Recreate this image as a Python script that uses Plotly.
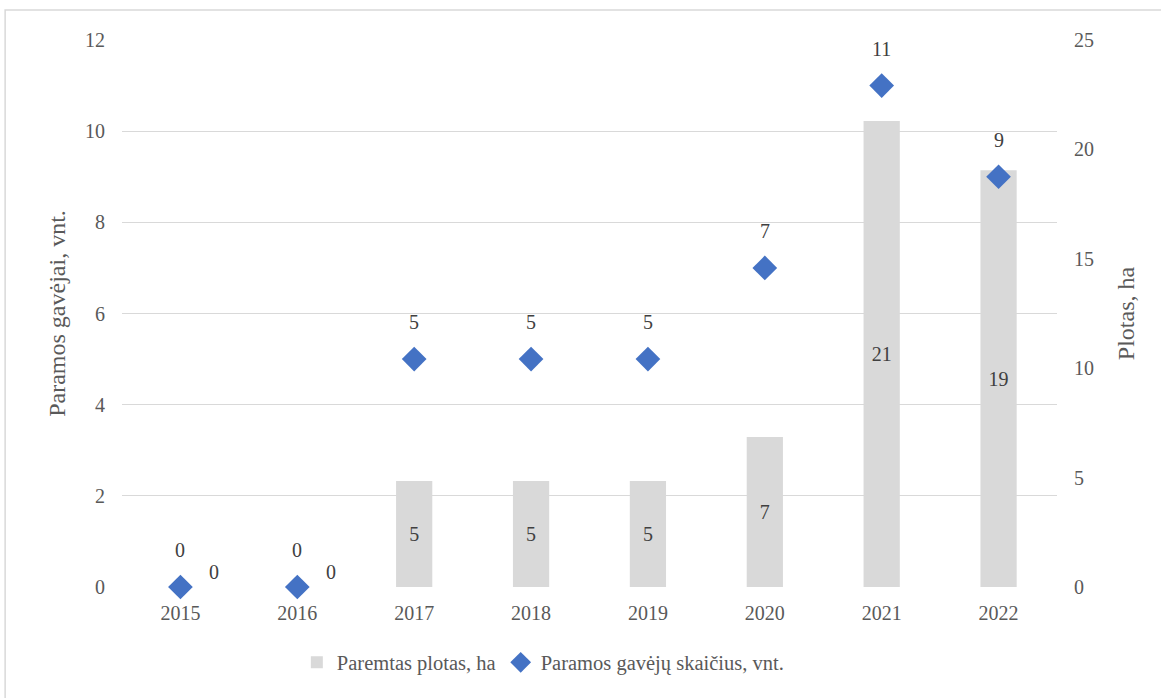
import plotly.graph_objects as go

years = ['2015', '2016', '2017', '2018', '2019', '2020', '2021', '2022']
area_ha = [0, 0, 4.85, 4.85, 4.85, 6.85, 21.3, 19.05]
recipients = [0, 0, 5, 5, 5, 7, 11, 9]

FONT = 'Liberation Serif'
GRID = '#d9d9d9'
TXT = '#595959'
LBL = '#404040'

pos = list(range(len(years)))

fig = go.Figure()

# bars on the primary (right) axis so the diamonds on y2 are drawn above them
fig.add_trace(go.Bar(
    x=pos, y=area_ha, yaxis='y', name='Paremtas plotas, ha',
    marker=dict(color='#d9d9d9', line=dict(width=0)), width=0.31,
    text=[f'{v:.0f}' if v > 0 else '' for v in area_ha],
    textposition='inside', insidetextanchor='middle', textangle=0,
    textfont=dict(family=FONT, size=20, color=LBL),
    hoverinfo='skip'))

fig.add_trace(go.Scatter(
    x=pos, y=recipients, yaxis='y2', mode='markers',
    name='Paramos gavėjų skaičius, vnt.',
    marker=dict(symbol='diamond', size=19, color='#4472c4'),
    cliponaxis=False))

annotations = []
for p, v in zip(pos, recipients):
    annotations.append(dict(
        x=p, y=v, xref='x', yref='y2', text=f'{v}', showarrow=False,
        yshift=37, font=dict(family=FONT, size=20, color=LBL)))
for p, v in zip(pos, area_ha):
    if v == 0:
        annotations.append(dict(
            x=p, y=v, xref='x', yref='y', text=f'{v:.0f}', showarrow=False,
            xshift=34, yshift=15, font=dict(family=FONT, size=20, color=LBL)))

fig.update_layout(
    width=1161, height=698,
    plot_bgcolor='white', paper_bgcolor='white',
    font=dict(family=FONT, size=20, color=TXT),
    margin=dict(l=122, r=104, t=40, b=111),
    showlegend=True,
    legend=dict(orientation='h', yanchor='middle', y=-0.138, xanchor='left',
                x=0.187, font=dict(family=FONT, size=20.5, color=TXT),
                itemwidth=30, traceorder='normal'),
    xaxis=dict(range=[-0.5, len(years) - 0.5], tickvals=pos, ticktext=years,
               showgrid=False, zeroline=False, showline=False,
               ticklabelstandoff=12,
               tickfont=dict(family=FONT, size=20, color=TXT)),
    yaxis=dict(range=[0, 25], dtick=5, side='right',
               showgrid=False, zeroline=False, showline=False,
               ticklabelstandoff=16,
               tickfont=dict(family=FONT, size=20, color=TXT),
               title=dict(text='Plotas, ha',
                          font=dict(family=FONT, size=24, color=TXT),
                          standoff=24)),
    yaxis2=dict(range=[0, 12], dtick=2, overlaying='y', side='left',
                showgrid=True, gridcolor=GRID, gridwidth=1.3,
                zeroline=False, showline=False,
                ticklabelstandoff=16,
                tickfont=dict(family=FONT, size=20, color=TXT),
                title=dict(text='Paramos gavėjai, vnt.',
                           font=dict(family=FONT, size=24, color=TXT),
                           standoff=12)),
    annotations=annotations,
    shapes=[dict(type='rect', xref='paper', yref='paper',
                 x0=-0.125, x1=1.12, y0=-0.22, y1=1.0548,
                 line=dict(color=GRID, width=1.5), layer='below')])

fig.write_html("out.html", config={'displayModeBar': False},
               post_script="document.body.style.margin='0';")
